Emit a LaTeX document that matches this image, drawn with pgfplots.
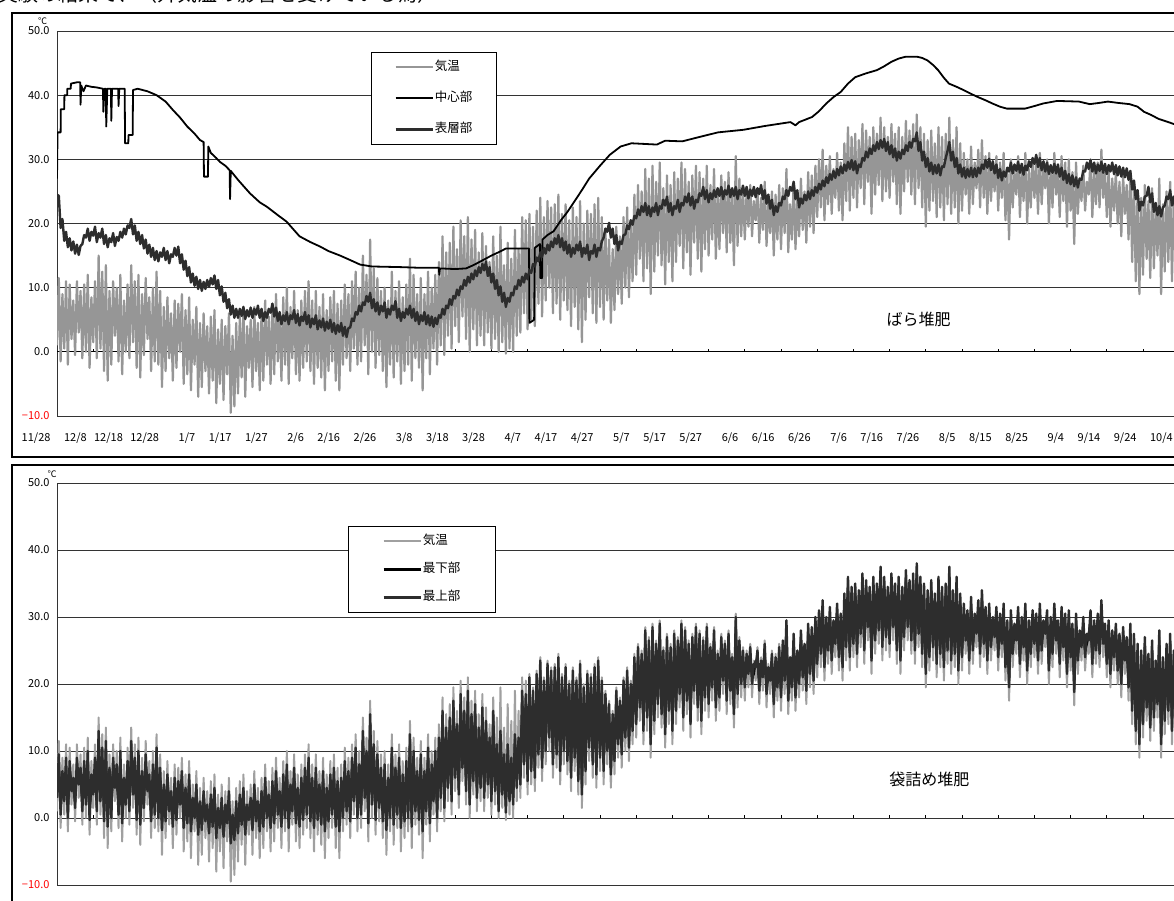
\documentclass[border=0pt]{standalone}
\usepackage{fontspec}
\setmainfont{Noto Sans CJK JP}
\usepackage{pgfplots}
\usepackage{pgfplotstable}
\pgfplotsset{compat=1.18}
\definecolor{airgray}{RGB}{150,150,150}
\definecolor{airgrayb}{RGB}{160,160,160}
\definecolor{surfdark}{RGB}{45,45,45}

% half-day rows: a = air temperature, s = surface of heap, u = top of bag, l = bottom of bag
\pgfplotstableread[row sep=\\]{
a s u l\\
1.0 24.5 3.0 4.0\\ 11.5 24.3 9.5 8.0\\
-1.5 19.3 0.5 1.5\\ 9.0 20.7 7.0 5.5\\
0.5 17.3 2.5 3.5\\ 11.0 18.7 9.0 7.5\\
-2.0 16.3 0.0 1.0\\ 10.5 17.7 8.5 7.0\\
2.0 15.8 4.0 5.0\\ 8.0 17.2 6.0 4.5\\
-0.5 15.3 1.5 2.5\\ 11.0 16.7 9.0 7.5\\
3.0 15.1 5.0 6.0\\ 9.5 16.5 7.5 6.0\\
-1.0 16.8 1.0 2.0\\ 10.5 18.2 8.5 7.0\\
0.0 17.8 2.0 3.0\\ 12.0 19.2 10.0 8.5\\
-2.5 17.3 -0.3 0.7\\ 8.5 18.7 6.5 5.0\\
1.5 18.1 3.5 4.5\\ 11.0 19.5 9.0 7.5\\
-1.0 17.1 1.0 2.0\\ 15.0 18.5 13.0 11.5\\
0.5 17.8 2.5 3.5\\ 12.5 19.2 10.5 9.0\\
-3.0 16.8 -0.5 0.5\\ 13.5 18.2 11.5 10.0\\
-4.5 16.3 -1.3 -0.3\\ 9.5 17.7 7.5 6.0\\
-2.0 17.1 0.0 1.0\\ 11.0 18.5 9.0 7.5\\
2.5 16.5 4.5 5.5\\ 10.0 17.9 8.0 6.5\\
-1.5 17.3 0.5 1.5\\ 12.0 18.7 10.0 8.5\\
-3.5 17.8 -0.8 0.2\\ 8.0 19.2 6.0 4.5\\
0.0 18.3 2.0 3.0\\ 10.5 19.7 8.5 7.0\\
-1.0 19.3 1.0 2.0\\ 13.5 20.7 11.5 10.0\\
1.5 18.3 3.5 4.5\\ 11.0 19.7 9.0 7.5\\
-2.5 17.3 -0.3 0.7\\ 12.0 18.7 10.0 8.5\\
-4.0 16.8 -1.0 0.0\\ 9.0 18.2 7.0 5.5\\
-0.5 16.1 1.5 2.5\\ 11.5 17.5 9.5 8.0\\
2.0 15.3 4.0 5.0\\ 8.5 16.7 6.5 5.0\\
-3.0 14.8 -0.5 0.5\\ 10.0 16.2 8.0 6.5\\
-1.5 14.3 0.5 1.5\\ 12.5 15.7 10.5 9.0\\
-2.0 14.1 0.0 1.0\\ 9.5 15.5 7.5 6.0\\
-5.5 14.8 -1.8 -0.8\\ 7.0 16.2 5.0 3.5\\
-3.0 14.3 -0.5 0.5\\ 8.5 15.7 6.5 5.0\\
-1.0 13.8 1.0 2.0\\ 6.0 15.2 4.0 2.5\\
-4.5 14.8 -1.3 -0.3\\ 8.0 16.2 6.0 4.5\\
-2.5 15.0 -0.3 0.7\\ 7.5 16.4 5.5 4.0\\
0.0 13.8 2.0 3.0\\ 9.0 15.2 7.0 5.5\\
-5.0 12.8 -1.5 -0.5\\ 6.5 14.2 4.5 3.0\\
-3.5 11.8 -0.8 0.2\\ 8.5 13.2 6.5 5.0\\
-6.0 10.8 -2.0 -1.0\\ 5.0 12.2 3.0 1.5\\
-2.0 10.3 0.0 1.0\\ 7.0 11.7 5.0 3.5\\
-7.0 9.8 -2.5 -1.5\\ 4.5 11.2 2.5 1.0\\
-5.5 9.5 -1.8 -0.8\\ 6.0 10.9 4.0 2.5\\
-3.0 9.8 -0.5 0.5\\ 4.0 11.2 2.0 0.5\\
-6.5 10.1 -2.3 -1.3\\ 5.5 11.5 3.5 2.0\\
-4.5 10.5 -1.3 -0.3\\ 6.5 11.9 4.5 3.0\\
-8.0 9.8 -3.0 -2.0\\ 3.5 11.2 1.5 0.0\\
-5.0 8.8 -1.5 -0.5\\ 5.0 10.2 3.0 1.5\\
-7.5 7.8 -2.8 -1.8\\ 4.0 9.2 2.0 0.5\\
-3.5 6.8 -0.8 0.2\\ 6.0 8.2 4.0 2.5\\
-9.5 5.8 -3.8 -2.8\\ 2.5 7.2 0.5 -1.0\\
-8.5 5.3 -3.3 -2.3\\ 4.5 6.7 2.5 1.0\\
-6.5 5.3 -2.3 -1.3\\ 5.5 6.7 3.5 2.0\\
-4.0 5.6 -1.0 0.0\\ 6.5 7.0 4.5 3.0\\
-7.0 5.1 -2.5 -1.5\\ 4.0 6.5 2.0 0.5\\
-2.5 5.5 -0.3 0.7\\ 5.0 6.9 3.0 1.5\\
-5.5 5.3 -1.8 -0.8\\ 7.0 6.7 5.0 3.5\\
-3.0 5.8 -0.5 0.5\\ 4.5 7.2 2.5 1.0\\
-6.0 5.3 -2.0 -1.0\\ 6.0 6.7 4.0 2.5\\
-4.5 4.8 -1.3 -0.3\\ 8.0 6.2 6.0 4.5\\
-2.0 5.3 0.0 1.0\\ 5.5 6.7 3.5 2.0\\
-5.0 6.1 -1.5 -0.5\\ 7.5 7.5 5.5 4.0\\
-3.5 5.5 -0.8 0.2\\ 9.0 6.9 7.0 5.5\\
-1.5 4.8 0.5 1.5\\ 6.0 6.2 4.0 2.5\\
-4.5 4.3 -1.3 -0.3\\ 8.5 5.7 6.5 5.0\\
-2.0 4.8 0.0 1.0\\ 10.0 6.2 8.0 6.5\\
-5.0 4.3 -1.5 -0.5\\ 7.0 5.7 5.0 3.5\\
-1.0 5.1 1.0 2.0\\ 9.5 6.5 7.5 6.0\\
-3.5 4.5 -0.8 0.2\\ 6.5 5.9 4.5 3.0\\
-4.5 4.1 -1.3 -0.3\\ 8.0 5.5 6.0 4.5\\
-2.5 4.8 -0.3 0.7\\ 9.5 6.2 7.5 6.0\\
-1.5 4.3 0.5 1.5\\ 11.0 5.7 9.0 7.5\\
-3.0 3.8 -0.5 0.5\\ 8.0 5.2 6.0 4.5\\
-5.0 4.3 -1.5 -0.5\\ 9.5 5.7 7.5 6.0\\
-2.5 3.5 -0.3 0.7\\ 7.0 4.9 5.0 3.5\\
-4.0 3.8 -1.0 0.0\\ 9.0 5.2 7.0 5.5\\
-6.0 3.3 -2.0 -1.0\\ 6.5 4.7 4.5 3.0\\
-3.0 3.6 -0.5 0.5\\ 8.5 5.0 6.5 5.0\\
-1.5 3.1 0.5 1.5\\ 9.5 4.5 7.5 6.0\\
-4.5 2.8 -1.3 -0.3\\ 7.5 4.2 5.5 4.0\\
-6.0 3.1 -2.0 -1.0\\ 8.0 4.5 6.0 4.5\\
-2.0 2.5 0.0 1.0\\ 10.5 3.9 8.5 7.0\\
-1.0 2.3 1.0 2.0\\ 9.0 3.7 7.0 5.5\\
-3.0 3.8 -0.5 0.5\\ 11.0 5.2 9.0 7.5\\
0.5 4.8 2.5 3.5\\ 12.5 6.2 10.5 9.0\\
-2.0 5.8 0.0 1.0\\ 10.0 7.2 8.0 6.5\\
-1.5 6.3 0.5 1.5\\ 15.0 7.7 13.0 11.5\\
1.0 7.3 3.0 4.0\\ 12.0 8.7 10.0 8.5\\
-3.5 7.8 -0.8 0.2\\ 17.5 9.2 15.5 14.0\\
0.0 6.8 2.0 3.0\\ 13.0 8.2 11.0 9.5\\
-2.5 6.3 -0.3 0.7\\ 11.5 7.7 9.5 8.0\\
-0.5 5.8 1.5 2.5\\ 9.5 7.2 7.5 6.0\\
-3.0 6.3 -0.5 0.5\\ 10.0 7.7 8.0 6.5\\
-5.5 5.3 -1.8 -0.8\\ 8.0 6.7 6.0 4.5\\
-2.0 5.8 0.0 1.0\\ 12.5 7.2 10.5 9.0\\
-4.0 6.5 -1.0 0.0\\ 9.5 7.9 7.5 6.0\\
-1.5 5.3 0.5 1.5\\ 11.0 6.7 9.0 7.5\\
-5.0 4.8 -1.5 -0.5\\ 8.5 6.2 6.5 5.0\\
-3.0 5.3 -0.5 0.5\\ 10.5 6.7 8.5 7.0\\
-2.0 5.8 0.0 1.0\\ 14.5 7.2 12.5 11.0\\
-4.5 5.3 -1.3 -0.3\\ 12.0 6.7 10.0 8.5\\
-1.0 4.8 1.0 2.0\\ 9.0 6.2 7.0 5.5\\
-2.5 4.3 -0.3 0.7\\ 11.5 5.7 9.5 8.0\\
-6.0 4.8 -2.0 -1.0\\ 9.0 6.2 7.0 5.5\\
-1.0 4.3 1.0 2.0\\ 12.5 5.7 10.5 9.0\\
-3.5 4.1 -0.8 0.2\\ 10.0 5.5 8.0 6.5\\
0.5 3.9 2.5 3.5\\ 12.0 5.3 10.0 8.5\\
-2.0 4.3 0.0 1.0\\ 14.0 5.7 12.0 10.5\\
1.0 5.3 3.0 4.0\\ 18.0 6.7 16.0 14.5\\
-0.5 5.8 1.5 2.5\\ 15.5 7.2 13.5 12.0\\
2.5 6.8 4.5 5.5\\ 17.0 8.2 15.0 13.5\\
0.5 7.3 2.5 3.5\\ 19.5 8.7 17.5 16.0\\
4.0 8.3 6.0 7.0\\ 16.0 9.7 14.0 12.5\\
1.5 8.8 3.5 4.5\\ 20.5 10.2 18.5 17.0\\
5.5 9.8 7.5 8.5\\ 18.0 11.2 16.0 14.5\\
2.0 10.3 4.0 5.0\\ 21.0 11.7 19.0 17.5\\
0.0 10.8 2.0 3.0\\ 17.5 12.2 15.5 14.0\\
3.5 11.3 5.5 6.5\\ 19.0 12.7 17.0 15.5\\
1.0 11.8 3.0 4.0\\ 15.5 13.2 13.5 12.0\\
2.5 12.3 4.5 5.5\\ 18.5 13.7 16.5 15.0\\
1.0 12.7 3.0 4.0\\ 16.5 14.1 14.5 13.0\\
3.0 11.8 5.0 6.0\\ 14.0 13.2 12.0 10.5\\
0.5 10.8 2.5 3.5\\ 18.0 12.2 16.0 14.5\\
2.0 9.8 4.0 5.0\\ 15.0 11.2 11.0 9.5\\
0.0 8.8 1.0 2.0\\ 19.5 10.2 13.0 11.5\\
1.5 7.8 3.5 4.5\\ 13.5 9.2 9.5 8.0\\
-0.3 7.0 0.8 1.8\\ 17.0 8.4 11.0 9.5\\
0.5 7.8 2.5 3.5\\ 14.5 9.2 9.0 7.5\\
0.0 8.8 2.0 3.0\\ 19.0 10.2 12.5 11.0\\
2.5 9.8 4.5 5.5\\ 16.0 11.2 12.0 10.5\\
3.0 10.3 5.0 6.0\\ 21.0 11.7 19.0 17.5\\
6.0 10.8 8.0 9.0\\ 20.5 12.2 18.5 17.0\\
3.5 11.3 5.5 6.5\\ 21.5 12.7 21.0 19.5\\
5.0 12.3 7.0 8.0\\ 19.5 13.7 19.0 17.5\\
4.0 13.3 6.0 7.0\\ 22.0 14.7 21.5 20.0\\
7.5 14.1 9.5 10.5\\ 24.0 15.5 23.5 22.0\\
5.5 14.8 7.5 8.5\\ 21.0 16.2 20.5 19.0\\
8.0 15.3 10.0 11.0\\ 23.5 16.7 23.0 21.5\\
10.0 15.8 12.0 13.0\\ 22.5 17.2 22.0 20.5\\
6.0 16.3 8.0 9.0\\ 23.0 17.7 22.5 21.0\\
7.5 16.8 9.5 10.5\\ 24.5 18.2 24.0 22.5\\
5.0 16.3 7.0 8.0\\ 21.5 17.7 21.0 19.5\\
8.0 15.8 10.0 11.0\\ 23.0 17.2 22.5 21.0\\
6.5 15.3 8.5 9.5\\ 20.5 16.7 20.0 18.5\\
4.0 14.8 6.0 7.0\\ 22.5 16.2 22.0 20.5\\
7.0 15.3 9.0 10.0\\ 21.0 16.7 20.5 19.0\\
3.5 15.8 5.5 6.5\\ 23.5 17.2 23.0 21.5\\
1.5 14.8 3.5 4.5\\ 20.0 16.2 19.5 18.0\\
5.0 15.3 7.0 8.0\\ 22.0 16.7 21.5 20.0\\
8.5 14.3 10.5 11.5\\ 21.5 15.7 21.0 19.5\\
6.0 15.3 8.0 9.0\\ 23.0 16.7 22.5 21.0\\
4.5 14.8 6.5 7.5\\ 24.0 16.2 23.5 22.0\\
7.0 15.8 9.0 10.0\\ 21.0 17.2 20.5 19.0\\
5.0 17.8 7.0 8.0\\ 19.0 19.2 18.5 17.0\\
8.0 18.7 10.0 11.0\\ 17.5 20.1 17.0 15.5\\
4.5 17.8 6.5 7.5\\ 16.0 19.2 15.5 14.0\\
6.5 16.8 8.5 9.5\\ 19.5 18.2 19.0 17.5\\
9.0 15.8 11.0 12.0\\ 18.0 17.2 17.5 16.0\\
7.5 16.8 9.5 10.5\\ 21.0 18.2 20.5 19.0\\
10.0 18.3 12.0 13.0\\ 22.5 19.7 22.0 20.5\\
8.5 19.1 10.5 11.5\\ 20.5 20.5 20.0 18.5\\
11.0 19.8 13.0 14.0\\ 24.5 21.2 24.0 22.5\\
12.0 20.8 14.0 15.0\\ 26.0 22.2 25.5 24.0\\
14.5 21.3 16.5 17.5\\ 25.0 22.7 24.5 23.0\\
11.0 21.8 13.0 14.0\\ 28.5 23.2 28.0 26.5\\
13.0 21.3 15.0 16.0\\ 27.0 22.7 26.5 25.0\\
9.0 21.1 11.0 12.0\\ 29.0 22.5 28.5 27.0\\
12.5 21.8 14.5 15.5\\ 26.5 23.2 26.0 24.5\\
15.0 21.3 17.0 18.0\\ 29.5 22.7 29.0 27.5\\
13.5 22.3 15.5 16.5\\ 25.5 23.7 25.0 23.5\\
10.5 22.8 12.5 13.5\\ 27.5 24.2 27.0 25.5\\
14.0 21.8 16.0 17.0\\ 26.0 23.2 25.5 24.0\\
11.0 21.3 13.0 14.0\\ 28.0 22.7 27.5 26.0\\
14.0 22.3 16.0 17.0\\ 27.0 23.7 26.5 25.0\\
16.5 21.8 18.5 19.5\\ 29.5 23.2 29.0 27.5\\
13.0 22.8 15.0 16.0\\ 28.5 24.2 28.0 26.5\\
15.5 23.3 17.5 18.5\\ 26.5 24.7 26.0 24.5\\
12.0 22.8 14.0 15.0\\ 27.5 24.2 27.0 25.5\\
17.0 22.3 19.0 20.0\\ 29.0 23.7 28.5 27.0\\
14.5 23.3 16.5 17.5\\ 28.0 24.7 27.5 26.0\\
12.5 24.3 14.5 15.5\\ 27.0 25.7 26.5 25.0\\
16.0 23.8 18.0 19.0\\ 29.0 25.2 28.5 27.0\\
15.0 23.3 17.0 18.0\\ 26.0 24.7 25.5 24.0\\
17.5 23.8 19.5 20.5\\ 28.5 25.2 28.0 26.5\\
14.5 24.1 16.5 17.5\\ 25.0 25.5 24.5 23.0\\
16.0 24.3 18.0 19.0\\ 27.5 25.7 27.0 25.5\\
18.5 23.8 20.5 21.5\\ 26.5 25.2 26.0 24.5\\
15.5 24.5 17.5 18.5\\ 28.0 25.9 27.5 26.0\\
17.0 24.1 19.0 20.0\\ 24.5 25.5 24.0 22.5\\
13.5 24.3 15.5 16.5\\ 30.5 25.7 30.0 28.5\\
16.5 23.8 18.5 19.5\\ 27.0 25.2 26.5 25.0\\
18.0 24.5 20.0 21.0\\ 25.5 25.9 25.0 23.5\\
17.5 24.3 19.5 20.5\\ 25.0 25.7 24.5 23.0\\
19.5 23.9 21.5 22.5\\ 26.0 25.3 25.5 24.0\\
18.0 24.3 20.0 21.0\\ 23.5 25.7 23.0 21.5\\
20.5 24.1 22.5 23.5\\ 25.5 25.5 25.0 23.5\\
17.0 24.6 19.0 20.0\\ 24.0 26.0 23.5 22.0\\
19.0 23.8 21.0 22.0\\ 26.5 25.2 26.0 24.5\\
16.5 23.1 18.5 19.5\\ 23.0 24.5 22.5 21.0\\
18.5 22.3 20.5 21.5\\ 25.0 23.7 24.5 23.0\\
15.0 21.3 17.0 18.0\\ 24.5 22.7 24.0 22.5\\
17.5 21.8 19.5 20.5\\ 26.0 23.2 25.5 24.0\\
16.0 22.8 18.0 19.0\\ 25.5 24.2 26.5 25.0\\
18.5 23.8 20.5 21.5\\ 28.5 25.2 29.5 28.0\\
15.5 24.3 17.5 18.5\\ 23.0 25.7 24.0 22.5\\
17.5 25.1 19.5 20.5\\ 26.5 26.5 27.5 26.0\\
16.0 23.8 18.0 19.0\\ 24.0 25.2 25.0 23.5\\
18.0 22.5 20.0 21.0\\ 27.0 23.9 28.0 26.5\\
19.0 23.1 21.0 22.0\\ 25.0 24.5 26.0 24.5\\
17.0 23.6 19.0 20.0\\ 28.0 25.0 29.0 27.5\\
19.5 23.8 21.5 22.5\\ 27.5 25.2 28.5 27.0\\
18.5 24.3 20.5 21.5\\ 29.0 25.7 30.0 28.5\\
21.0 24.8 23.0 24.0\\ 30.0 26.2 31.0 29.5\\
22.5 25.3 24.5 25.5\\ 31.5 26.7 32.5 31.0\\
20.5 25.8 22.5 23.5\\ 29.0 27.2 30.0 28.5\\
23.0 26.3 25.0 26.0\\ 30.5 27.7 31.5 30.0\\
21.5 26.8 23.5 24.5\\ 28.5 28.2 29.5 28.0\\
24.0 27.1 26.0 27.0\\ 31.0 28.5 32.0 30.5\\
22.0 27.5 24.0 25.0\\ 29.5 28.9 30.5 29.0\\
20.5 27.8 22.5 23.5\\ 32.5 29.2 33.5 32.0\\
23.5 28.2 25.5 26.5\\ 35.0 29.6 36.0 34.5\\
22.0 28.5 24.0 25.0\\ 33.5 29.9 34.5 33.0\\
24.0 28.3 26.0 27.0\\ 34.0 29.7 35.0 33.5\\
22.5 27.8 24.5 25.5\\ 33.0 29.2 34.0 32.5\\
25.5 28.8 27.5 28.5\\ 35.5 30.2 36.5 35.0\\
23.0 29.8 25.0 26.0\\ 34.5 31.2 35.5 34.0\\
26.5 30.3 28.5 29.5\\ 33.5 31.7 34.5 33.0\\
21.5 30.8 23.5 24.5\\ 35.0 32.2 36.0 34.5\\
24.5 31.3 26.5 27.5\\ 34.0 32.7 35.0 33.5\\
26.0 31.6 28.0 29.0\\ 36.5 33.0 37.5 36.0\\
23.5 31.8 25.5 26.5\\ 35.0 33.2 36.0 34.5\\
25.0 31.3 27.0 28.0\\ 33.5 32.7 34.5 33.0\\
24.0 30.8 26.0 27.0\\ 35.5 32.2 36.5 35.0\\
26.5 30.3 28.5 29.5\\ 34.0 31.7 35.0 33.5\\
23.0 29.8 25.0 26.0\\ 35.0 31.2 36.0 34.5\\
21.5 30.1 23.5 24.5\\ 33.5 31.5 34.5 33.0\\
25.0 30.8 27.0 28.0\\ 36.0 32.2 37.0 35.5\\
26.5 31.3 28.5 29.5\\ 34.5 32.7 35.5 34.0\\
24.5 31.8 26.5 27.5\\ 35.5 33.2 36.5 35.0\\
23.0 32.8 25.0 26.0\\ 37.0 34.2 38.0 36.5\\
25.5 31.3 27.5 28.5\\ 35.0 32.7 36.0 34.5\\
22.5 29.8 24.5 25.5\\ 34.0 31.2 35.0 33.5\\
19.5 28.8 21.5 22.5\\ 33.0 30.2 34.0 32.5\\
22.0 28.1 24.0 25.0\\ 34.5 29.5 35.5 34.0\\
23.5 27.7 25.5 26.5\\ 32.5 29.1 33.5 32.0\\
21.0 27.8 23.0 24.0\\ 35.0 29.2 36.0 34.5\\
22.5 27.5 24.5 25.5\\ 33.5 28.9 34.5 33.0\\
20.5 28.8 22.5 23.5\\ 34.0 30.2 35.0 33.5\\
23.0 31.3 25.0 26.0\\ 36.5 32.7 37.5 36.0\\
21.5 29.8 23.5 24.5\\ 33.0 31.2 34.0 32.5\\
22.5 28.8 24.5 25.5\\ 35.0 30.2 36.0 34.5\\
20.0 27.8 22.0 23.0\\ 32.5 29.2 33.5 32.0\\
22.0 27.3 24.0 25.0\\ 31.0 28.7 32.0 30.5\\
24.5 27.1 26.5 27.5\\ 30.0 28.5 31.0 29.5\\
21.5 27.3 23.5 24.5\\ 32.0 28.7 33.0 31.5\\
23.0 27.2 25.0 26.0\\ 29.5 28.6 30.5 29.0\\
25.5 27.3 27.5 28.5\\ 31.5 28.7 32.5 31.0\\
22.5 27.8 24.5 25.5\\ 33.0 29.2 34.0 32.5\\
24.0 28.5 26.0 27.0\\ 30.5 29.9 31.5 30.0\\
21.5 28.7 23.5 24.5\\ 31.0 30.1 32.0 30.5\\
23.5 28.3 25.5 26.5\\ 29.0 29.7 30.0 28.5\\
25.0 27.8 27.0 28.0\\ 30.5 29.2 31.5 30.0\\
22.0 27.1 24.0 25.0\\ 29.5 28.5 30.5 29.0\\
24.0 26.7 26.0 27.0\\ 31.0 28.1 32.0 30.5\\
20.5 27.3 22.5 23.5\\ 28.5 28.7 29.5 28.0\\
17.5 28.1 19.5 20.5\\ 30.0 29.5 31.0 29.5\\
22.5 27.8 24.5 25.5\\ 28.0 29.2 29.0 27.5\\
24.5 28.2 26.5 27.5\\ 30.5 29.6 31.5 30.0\\
21.0 27.9 23.0 24.0\\ 29.0 29.3 30.0 28.5\\
23.5 27.6 25.5 26.5\\ 31.0 29.0 32.0 30.5\\
20.0 28.3 22.0 23.0\\ 28.5 29.7 29.5 28.0\\
22.5 28.8 24.5 25.5\\ 30.0 30.2 31.0 29.5\\
24.0 29.3 26.0 27.0\\ 29.5 30.7 30.5 29.0\\
21.5 28.8 23.5 24.5\\ 31.0 30.2 32.0 30.5\\
23.0 28.3 25.0 26.0\\ 28.5 29.7 29.5 28.0\\
25.5 28.1 27.5 28.5\\ 30.0 29.5 31.0 29.5\\
20.0 27.7 22.0 23.0\\ 29.0 29.1 30.0 28.5\\
22.5 27.9 24.5 25.5\\ 31.0 29.3 32.0 30.5\\
24.5 27.8 26.5 27.5\\ 28.5 29.2 29.5 28.0\\
21.0 27.3 23.0 24.0\\ 30.5 28.7 31.5 30.0\\
23.5 26.8 25.5 26.5\\ 29.5 28.2 30.5 29.0\\
19.5 26.3 21.5 22.5\\ 30.0 27.7 31.0 29.5\\
22.0 26.1 24.0 25.0\\ 28.0 27.5 29.0 27.5\\
16.8 25.8 18.8 19.8\\ 29.5 27.2 30.5 29.0\\
21.5 25.6 23.5 24.5\\ 27.0 27.0 28.0 26.5\\
23.5 26.8 25.5 26.5\\ 29.0 28.2 30.0 28.5\\
22.0 28.1 24.0 25.0\\ 26.5 29.5 27.5 26.0\\
24.5 28.5 26.5 27.5\\ 30.0 29.9 31.0 29.5\\
21.0 28.1 23.0 24.0\\ 28.5 29.5 29.5 28.0\\
23.0 27.8 25.0 26.0\\ 29.5 29.2 30.5 29.0\\
22.5 28.2 24.5 25.5\\ 31.5 29.6 32.5 31.0\\
24.0 27.9 26.0 27.0\\ 28.0 29.3 29.0 27.5\\
21.0 27.7 23.0 24.0\\ 28.5 29.1 29.5 28.0\\
19.5 28.1 21.5 22.5\\ 27.0 29.5 28.0 26.5\\
22.0 27.7 24.0 25.0\\ 28.0 29.1 29.0 27.5\\
20.0 27.5 22.0 23.0\\ 26.5 28.9 27.5 26.0\\
18.0 27.3 20.0 21.0\\ 27.5 28.7 28.5 27.0\\
21.5 27.2 23.5 24.5\\ 26.0 28.6 27.0 25.5\\
17.5 26.8 19.5 20.5\\ 28.0 28.2 29.0 27.5\\
14.0 25.3 16.0 17.0\\ 26.5 26.7 27.5 26.0\\
11.0 23.8 13.0 14.0\\ 25.0 25.2 26.0 24.5\\
9.0 22.0 11.0 12.0\\ 24.0 23.4 25.0 23.5\\
12.0 22.8 14.0 15.0\\ 26.0 24.2 27.0 25.5\\
14.5 24.3 16.5 17.5\\ 23.5 25.7 24.5 23.0\\
11.5 23.3 13.5 14.5\\ 25.5 24.7 26.5 25.0\\
13.0 21.8 15.0 16.0\\ 22.5 23.2 23.5 22.0\\
15.0 21.3 17.0 18.0\\ 27.0 22.7 28.0 26.5\\
9.0 21.1 11.0 12.0\\ 23.0 22.5 24.0 22.5\\
12.5 22.8 14.5 15.5\\ 25.0 24.2 26.0 24.5\\
14.0 23.8 16.0 17.0\\ 26.5 25.2 27.5 26.0\\
11.0 22.8 13.0 14.0\\ 24.0 24.2 25.0 23.5\\
15.5 22.3 17.5 18.5\\ 27.0 23.7 28.0 26.5\\
13.0 22.8 15.0 16.0\\ 24.5 24.2 25.5 24.0\\
16.0 23.3 18.0 19.0\\ 26.0 24.7 27.0 25.5\\
14.5 22.8 16.5 17.5\\ 25.5 24.2 26.5 25.0\\
}\dataT

% centre of the heap (x = days after 11/28)
\pgfplotstableread{
x y
0 27.0
0.15 34.2
1.0 34.2
1.05 37.8
2.0 37.8
2.05 40.0
2.8 40.0
2.85 41.0
3.8 41.0
3.85 41.8
5.5 42.0
6.4 42.0
6.5 38.5
6.7 41.5
7.3 40.6
8.0 41.5
9.5 41.3
11.0 41.2
12.7 41.0
12.8 37.4
13.1 41.0
13.5 41.0
13.6 35.1
13.9 41.0
14.9 41.0
15.0 36.0
15.2 41.0
16.9 41.0
17.0 38.3
17.2 41.0
18.7 41.0
18.8 32.5
19.7 32.5
19.75 33.8
20.9 33.8
21.0 40.8
22.3 41.0
25.0 40.6
27.5 40.0
30.0 39.0
32.0 37.7
34.0 36.5
36.0 35.1
38.0 34.0
39.5 33.0
40.5 32.7
40.6 27.3
41.7 27.3
41.8 32.0
42.5 31.0
44.0 30.2
45.0 29.6
46.5 29.0
47.7 28.3
47.8 23.8
48.0 28.2
50.0 26.8
53.3 24.7
56.0 23.3
58.0 22.6
61.0 21.3
63.4 20.3
67.0 18.0
70.0 17.1
72.7 16.4
75.0 15.7
78.2 15.0
81.0 14.3
83.7 13.6
87.0 13.3
95.0 13.2
100.0 13.1
105.5 13.1
105.6 12.0
105.8 13.0
110.0 12.9
113.0 13.0
115.0 13.5
117.7 14.3
120.0 15.0
122.3 15.6
124.0 16.1
130.4 16.1
130.5 4.5
131.8 5.0
132.0 16.2
133.4 16.8
133.5 11.5
134.0 11.5
134.1 17.5
135.5 18.2
137.2 18.8
139.2 20.5
141.0 21.8
143.0 23.5
145.0 25.2
147.0 27.0
150.0 29.0
152.7 30.7
155.7 32.0
158.7 32.5
165.7 32.3
168.0 32.9
172.7 32.8
177.6 33.5
182.6 34.2
189.6 34.6
195.6 35.2
202.6 35.8
204.0 35.3
205.0 35.8
208.6 36.6
210.5 37.5
212.5 38.7
214.5 39.7
216.5 40.5
218.5 41.8
220.5 42.8
223.5 43.4
226.5 43.9
228.5 44.5
230.5 45.2
232.5 45.7
234.5 46.0
237.5 46.0
239.0 45.8
240.5 45.4
242.0 44.7
243.4 43.9
245.0 42.7
246.4 41.8
248.5 41.3
250.4 40.8
252.5 40.2
254.4 39.7
256.5 39.2
258.4 38.7
260.5 38.2
262.4 37.9
267.4 37.9
270.0 38.3
272.4 38.7
276.3 39.1
282.3 39.0
285.3 38.6
288.0 38.8
290.3 39.0
293.0 38.8
296.3 38.6
298.5 38.2
300.3 37.4
302.3 36.9
304.3 36.3
307.0 35.8
309.0 35.4
312.0 35.0
315.0 34.8
}\centerT

\pgfplotsset{
  tempaxis/.style={
    scale only axis, width=1140.3pt,
    xmin=0, xmax=315, ymin=-10, ymax=50,
    axis line style={black!80, line width=0.9pt},
    ytick={-10,0,10,20,30,40,50},
    yticklabels={\textcolor{red}{−10.0},0.0,10.0,20.0,30.0,40.0,50.0},
    ymajorgrids, grid style={black!80, line width=0.8pt},
    xtick={0,10,...,310},
    major tick length=0pt,
    tick label style={font=\fontsize{11}{11}\selectfont},
    xticklabel style={anchor=north east, xshift=-3pt, yshift=-13pt},
    yticklabel style={xshift=-4pt},
    legend image code/.code={\draw[##1] (0pt,0pt) -- (37pt,0pt);},
  },
}

\begin{document}
\begin{tikzpicture}
\useasboundingbox (0pt,0pt) rectangle (1174pt,901pt);
\fill[white] (0pt,0pt) rectangle (1174pt,901pt);
\clip (0pt,0pt) rectangle (1174pt,901pt);
\node[anchor=base west, inner sep=0pt, font=\fontsize{20}{20}\selectfont] at (-2pt,899pt) {実験の結果で、（外気温の影響を受けている為）};
\draw[line width=1.2pt] (12pt,444pt) rectangle (1220pt,888pt);
\draw[line width=1.2pt] (12pt,-30pt) rectangle (1220pt,436pt);

\begin{axis}[tempaxis,
  at={(57pt,485pt)}, anchor=south west, height=385pt,
  xticklabels={11/28,12/8,12/18,12/28,1/7,1/17,1/27,2/6,2/16,2/26,3/8,3/18,3/28,4/7,4/17,4/27,5/7,5/17,5/27,6/6,6/16,6/26,7/6,7/16,7/26,8/5,8/15,8/25,9/4,9/14,9/24,10/4},
  legend style={at={(0.2754,0.9455)}, anchor=north west,
    draw=black, line width=0.8pt, fill=white,
    font=\fontsize{12.5}{13}\selectfont,
    inner xsep=23pt, inner ysep=8.5pt, row sep=18pt,
    cells={anchor=west},
    nodes={inner sep=1pt, text height=9pt, text depth=2pt}},
]
\addplot[black, line width=1.1pt, forget plot] coordinates {(0,0) (315,0)};
\addplot[ycomb, black, line width=0.8pt, forget plot] coordinates {(10,0.45) (20,0.45) (30,0.45) (40,0.45) (50,0.45) (60,0.45) (70,0.45) (80,0.45) (90,0.45) (100,0.45) (110,0.45) (120,0.45) (130,0.45) (140,0.45) (150,0.45) (160,0.45) (170,0.45) (180,0.45) (190,0.45) (200,0.45) (210,0.45) (220,0.45) (230,0.45) (240,0.45) (250,0.45) (260,0.45) (270,0.45) (280,0.45) (290,0.45) (300,0.45) (310,0.45)};
\addplot[airgray, line width=2.2pt, line join=round] table[x expr=\coordindex/2, y=a] {\dataT};
\addlegendentry{気温}
\addplot[black, line width=1.8pt, line join=round] table[x=x, y=y] {\centerT};
\addlegendentry{中心部}
\addplot[surfdark, line width=2.4pt, line join=round] table[x expr=\coordindex/2, y=s] {\dataT};
\addlegendentry{表層部}
\node[font=\fontsize{16}{16}\selectfont] at (axis cs:238,5.0) {ばら堆肥};
\end{axis}

\begin{axis}[tempaxis,
  at={(57pt,16pt)}, anchor=south west, height=402pt,
  xticklabels={},
  legend style={at={(0.2552,0.893)}, anchor=north west,
    draw=black, line width=0.8pt, fill=white,
    font=\fontsize{12.5}{13}\selectfont,
    inner xsep=34pt, inner ysep=8.5pt, row sep=15pt,
    cells={anchor=west},
    nodes={inner sep=1pt, text height=9pt, text depth=2pt}},
]
\addplot[black!80, line width=0.9pt, forget plot] coordinates {(0,0) (315,0)};
\addplot[ycomb, black, line width=0.8pt, forget plot] coordinates {(10,0.45) (20,0.45) (30,0.45) (40,0.45) (50,0.45) (60,0.45) (70,0.45) (80,0.45) (90,0.45) (100,0.45) (110,0.45) (120,0.45) (130,0.45) (140,0.45) (150,0.45) (160,0.45) (170,0.45) (180,0.45) (190,0.45) (200,0.45) (210,0.45) (220,0.45) (230,0.45) (240,0.45) (250,0.45) (260,0.45) (270,0.45) (280,0.45) (290,0.45) (300,0.45) (310,0.45)};
\addplot[airgrayb, line width=2.0pt, line join=round] table[x expr=\coordindex/2, y=a] {\dataT};
\addlegendentry{気温}
\addplot[black, line width=2.2pt, line join=round] table[x expr=\coordindex/2, y=l] {\dataT};
\addlegendentry{最下部}
\addplot[surfdark, line width=2.4pt, line join=round] table[x expr=\coordindex/2, y=u] {\dataT};
\addlegendentry{最上部}
\node[font=\fontsize{16}{16}\selectfont] at (axis cs:241,5.7) {袋詰め堆肥};
\end{axis}

\node[font=\fontsize{9}{9}\selectfont] at (42.5pt,879.5pt) {℃};
\node[font=\fontsize{9}{9}\selectfont] at (52pt,427pt) {℃};
\end{tikzpicture}
\end{document}
